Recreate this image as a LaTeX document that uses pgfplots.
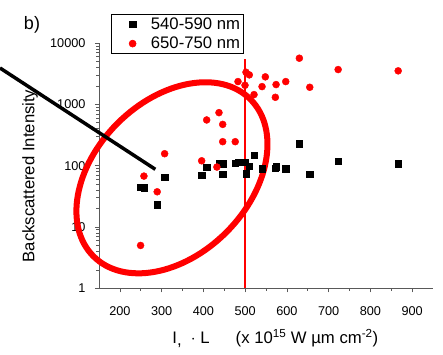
\documentclass[border=0pt]{standalone}
\usepackage{fontspec}
\setmainfont{Liberation Sans}
\usepackage{pgfplots}
\usepackage{pgfplotstable}
\pgfplotsset{compat=1.18}

% 540-590 nm band
\pgfplotstableread{
x      y
248.0  44.7
257.6  43.5
289.4  23.2
307.2  65.1
395.9  70.2
407.9  93.5
437.4  107
446.3  107
446.3  71.8
476.3  110
482.9  114.5
499.7  112.8
502.1  73.8
510.0  97
521.3  146.8
541.2  89
571.7  91.4
574.1  96
597.3  89
629.9  228
654.8  72.9
722.8  119
866.6  107
}\greenband

% 650-750 nm band
\pgfplotstableread{
x      y
249.6  5.0
257.6  67.6
289.4  37.5
307.2  156.6
395.9  120
407.9  556
432.4  94.9
437.4  732
446.3  471
446.3  246
476.3  246
482.9  2350
499.7  2046
502.1  3334
510.0  3023
521.3  1441
540.5  1946
548.4  2805
572.4  1302
574.1  2100
597.3  2350
629.9  5650
654.8  1897
722.8  3690
866.6  3515
}\redband

% threshold at 500
\pgfplotstableread{
x    y
500  1
500  5400
}\threshold

\begin{document}
\begin{tikzpicture}
\useasboundingbox (-99pt,-65.7pt) rectangle (344pt,288.3pt);
\begin{axis}[
  at={(0pt,0pt)}, anchor=south west,
  scale only axis, width=334pt, height=245.3pt,
  xmin=150, xmax=950,
  ymode=log, ymin=1, ymax=10000,
  axis x line*=bottom, axis y line*=left,
  axis line style={black!65, line width=0.8pt},
  xtick={200,300,...,900}, minor x tick num=1,
  ytick={1,10,100,1000,10000},
  yticklabels={1,10,100,1000,10000},
  tick align=outside,
  tick style={black!65, line width=0.6pt},
  major tick length=4pt, minor tick length=2.5pt,
  /pgf/number format/assume math mode=true,
  ticklabel style={font=\fontsize{12.7}{14}\selectfont},
  xticklabel style={yshift=-11pt},
  yticklabel style={xshift=-6pt},
  label style={font=\fontsize{16.7}{19}\selectfont},
  xlabel={I\raisebox{-1.5pt}{,}\ \ $\cdot$ L\hspace{26pt}(x 10\textsuperscript{15} W \textmu m cm\textsuperscript{-2})},
  xlabel style={at={(axis description cs:0.528,-0.203)}, anchor=center},
  ylabel={Backscattered Intensity},
  ylabel style={at={(axis description cs:-0.2066,0.458)}, anchor=center},
  legend style={at={(axis description cs:0.036,1.118)}, anchor=north west,
    draw=black, line width=0.6pt, font=\fontsize{16.7}{19}\selectfont,
    inner xsep=1pt, inner ysep=1pt, row sep=1pt,
    nodes={inner ysep=2.5pt}},
  legend image code/.code={%
    \path (0pt,0pt) (36pt,0pt);
    \draw[#1] plot coordinates {(20pt,0pt)};},
  legend cell align=left,
  clip=false,
]
% vertical threshold line, drawn first so the marks sit on top
\addplot[color=red, line width=1.3pt, no markers, forget plot]
  table[x=x, y=y] {\threshold};
\addplot[only marks, mark=square*, mark size=3.2pt, color=black]
  table[x=x, y=y] {\greenband};
\addlegendentry{540-590 nm}
\addplot[only marks, mark=*, mark size=3.5pt, color=red, mark options={draw=red, fill=red}]
  table[x=x, y=y] {\redband};
\addlegendentry{650-750 nm}
% highlighted low-intensity region
\draw[red, line width=6pt, rotate around={45:(axis cs:324.7,63.4)}]
  (axis cs:324.7,63.4) ellipse [x radius=111pt, y radius=77pt];
\end{axis}
\draw[black, line width=3.5pt] (-99pt,220.3pt) -- (56.3pt,119pt);
\node[font=\fontsize{18}{20}\selectfont] at (-67pt,263.3pt) {b)};
\end{tikzpicture}
\end{document}
